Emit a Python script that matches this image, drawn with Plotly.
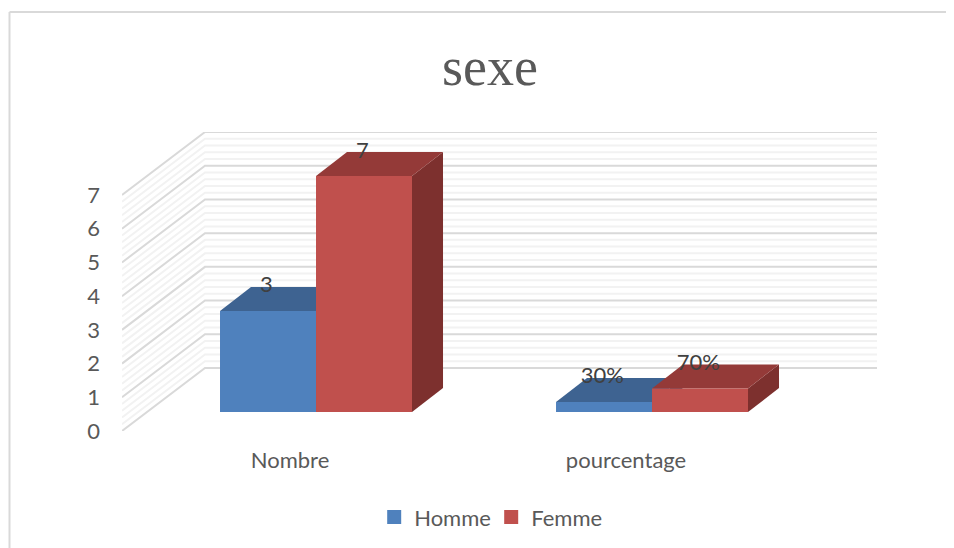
import plotly.graph_objects as go

categories = ["Nombre", "pourcentage"]
series_names = ["Homme", "Femme"]
homme_values = [3, 0.3]
femme_values = [7, 0.7]
homme_labels = ["3", "30%"]
femme_labels = ["7", "70%"]
y_ticks = [0, 1, 2, 3, 4, 5, 6, 7]

GREY_TEXT = "#595959"
FONT = "Lato"

# page body has an 8px margin, the figure sits at (8, 8) and runs off the window
FIG_W, FIG_H = 954, 548
M_L, M_R, M_T, M_B = 114, 85, 124, 125
PLOT_W = FIG_W - M_L - M_R
PLOT_H = FIG_H - M_T - M_B

# fake 3D: how far a point moves when pushed back, in axis units
WALL_DX, WALL_DY = 0.247, 1.87
BAR_SHIFT_X, BAR_SHIFT_Y = 0.0774, 0.563
BAR_DX, BAR_DY = 0.0923, 0.712
BAR_WIDTH = 0.2857
LABEL_SHIFT = -0.005
X_MIN, X_MAX = -0.5, 1.5

fig = go.Figure()


def add_grid(values, color, width):
    xs, ys = [], []
    for v in values:
        xs += [X_MIN, X_MIN + WALL_DX, X_MAX + WALL_DX, None]
        ys += [v, v + WALL_DY, v + WALL_DY, None]
    fig.add_trace(go.Scatter(
        x=xs, y=ys, mode="lines", line={"color": color, "width": width},
        hoverinfo="skip", showlegend=False, cliponaxis=False,
    ))


def add_face(xs, ys, color, name):
    fig.add_trace(go.Scatter(
        x=xs + xs[:1], y=ys + ys[:1], mode="lines", fill="toself",
        fillcolor=color, line={"width": 0, "color": color},
        name=name, showlegend=False, hoverinfo="skip",
    ))


def add_bar(cat_index, side, value, name, front, top, right):
    x0 = cat_index + BAR_SHIFT_X + side * BAR_WIDTH
    x1 = x0 + BAR_WIDTH
    y0 = BAR_SHIFT_Y
    y1 = y0 + value
    add_face([x1, x1 + BAR_DX, x1 + BAR_DX, x1],
             [y0, y0 + BAR_DY, y1 + BAR_DY, y1], right, name)
    add_face([x0, x0 + BAR_DX, x1 + BAR_DX, x1],
             [y1, y1 + BAR_DY, y1 + BAR_DY, y1], top, name)
    add_face([x0, x1, x1, x0], [y0, y0, y1, y1], front, name)


minor_ticks = [t + k * 0.2 for t in y_ticks[:-1] for k in range(1, 5)]
add_grid(minor_ticks, "#F2F2F2", 2)
add_grid(y_ticks, "#D9D9D9", 2)

for i in range(len(categories)):
    add_bar(i, -1, homme_values[i], "Homme", "#4F81BD", "#3E6391", "#325077")
    add_bar(i, 0, femme_values[i], "Femme", "#C0504D", "#943A38", "#7D302E")

for side, values, labels in [(-1, homme_values, homme_labels), (0, femme_values, femme_labels)]:
    fig.add_trace(go.Scatter(
        x=[i + BAR_SHIFT_X + (side + 0.5) * BAR_WIDTH + LABEL_SHIFT for i in range(len(categories))],
        y=[BAR_SHIFT_Y + v + BAR_DY for v in values],
        mode="text", text=labels, textposition="middle center",
        textfont={"family": FONT, "size": 22, "color": "#404040"},
        showlegend=False, hoverinfo="skip", cliponaxis=False,
    ))

# legend swatches only
for name, color in zip(series_names, ["#4F81BD", "#C0504D"]):
    fig.add_trace(go.Scatter(
        x=[None], y=[None], mode="markers", name=name,
        marker={"symbol": "square", "size": 14, "color": color},
    ))

# chart frame: only the top and left edges are visible in the picture
frame = {"type": "line", "xref": "paper", "yref": "paper", "layer": "below",
         "line": {"color": "#D9D9D9", "width": 2}}
frame_x = (1.5 - M_L) / PLOT_W
frame_y = 1 + (M_T - 4) / PLOT_H

fig.update_layout(
    width=FIG_W,
    height=FIG_H,
    autosize=False,
    template="plotly_white",
    paper_bgcolor="#ffffff",
    plot_bgcolor="#ffffff",
    font={"family": FONT, "size": 22, "color": GREY_TEXT},
    title={
        "text": "sexe",
        "x": 482 / FIG_W,
        "xanchor": "center",
        "y": 1 - 58 / FIG_H,
        "yanchor": "middle",
        "font": {"family": "Liberation Serif", "size": 54, "color": GREY_TEXT},
    },
    margin={"l": M_L, "r": M_R, "t": M_T, "b": M_B},
    legend={
        "orientation": "h",
        "x": 0.489,
        "xanchor": "center",
        "y": -0.288,
        "yanchor": "middle",
        "font": {"family": FONT, "size": 22, "color": GREY_TEXT},
        "itemwidth": 30,
        "entrywidth": 72,
        "entrywidthmode": "pixels",
    },
    showlegend=True,
    shapes=[
        {**frame, "x0": frame_x, "x1": 1 + M_R / PLOT_W, "y0": frame_y, "y1": frame_y},
        {**frame, "x0": frame_x, "x1": frame_x, "y0": frame_y, "y1": -M_B / PLOT_H},
    ],
)

fig.update_xaxes(
    range=[X_MIN, X_MAX + WALL_DX],
    tickvals=[0, 1],
    ticktext=categories,
    ticklabelstandoff=14,
    showgrid=False,
    zeroline=False,
    showline=False,
    ticks="",
)

fig.update_yaxes(
    range=[0, 7 + WALL_DY],
    tickvals=y_ticks,
    ticklabelstandoff=21,
    showgrid=False,
    zeroline=False,
    showline=False,
    ticks="",
)

fig.write_html("out.html")
